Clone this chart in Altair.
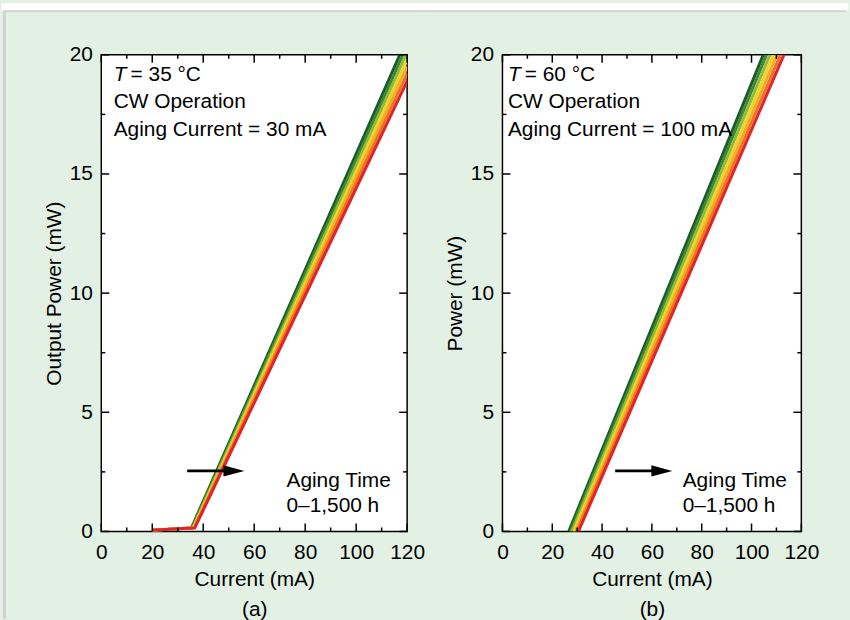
import altair as alt
import pandas as pd

FONT = "Liberation Sans"
BG = "#e3f1e4"
BORDER = "#cfd3cf"

# aging times of the curves and their colours (dark green = 0 h ... red = 1,500 h)
hours = [0, 250, 500, 750, 1000, 1250, 1500]
line_colors = ["#1d5a2a", "#3b8934", "#93bb3a", "#ead52a", "#f5ab24", "#ee7223", "#e1232a"]

# panel (a): T = 35 C, aging current 30 mA
a_start_current = 20.0
a_start_power = 0.05
a_knee_power = 0.15
a_threshold = [35.4, 35.6, 35.9, 36.1, 36.3, 36.5, 36.7]
a_end_current = 120.0
a_end_power = [20.7, 20.4, 20.1, 19.8, 19.5, 19.2, 18.9]

# panel (b): T = 60 C, aging current 100 mA
b_threshold = [26.6, 27.2, 27.9, 28.6, 29.3, 29.9, 30.5]
b_end_current = [104.7, 106.0, 107.4, 108.8, 110.2, 111.6, 113.0]
b_end_power = 20.0

# axis ticks
x_major = [0, 20, 40, 60, 80, 100, 120]
x_minor = [10, 30, 50, 70, 90, 110]
y_major = [0, 5, 10, 15, 20]
y_minor = [2.5, 7.5, 12.5, 17.5]

# texts
a_notes = ["CW Operation", "Aging Current = 30 mA"]
a_temp = "= 35 °C"
b_notes = ["CW Operation", "Aging Current = 100 mA"]
b_temp = "= 60 °C"
aging_notes = ["Aging Time", "0–1,500 h"]

rows_a = []
for k, h in enumerate(hours):
    pts = [(a_start_current, a_start_power), (a_threshold[k], a_knee_power), (a_end_current, a_end_power[k])]
    for j, (c, p) in enumerate(pts):
        rows_a.append({"hours": h, "pt": j, "I": c, "P": p})
df_a = pd.DataFrame(rows_a)

rows_b = []
for k, h in enumerate(hours):
    pts = [(b_threshold[k], 0.0), (b_end_current[k], b_end_power)]
    for j, (c, p) in enumerate(pts):
        rows_b.append({"hours": h, "pt": j, "I": c, "P": p})
df_b = pd.DataFrame(rows_b)

one = pd.DataFrame({"k": [0]})

XS = alt.Scale(domain=[0, 120], nice=False, zero=False)
YS = alt.Scale(domain=[0, 20], nice=False, zero=False)


def panel(df, W, H, xtitle, ytitle, temp, notes, tx, arrow_x0, arrow_x1, arrow_head, aging_x,
          frame_x0, frame_x1, left_border):
    x_axis = alt.Axis(title=xtitle, values=x_major, ticks=False, domain=False,
                      grid=False, labelPadding=10, titlePadding=6,
                      titleLineHeight=31, labelFlush=False, labelOverlap=False)
    y_axis = alt.Axis(title=ytitle, values=y_major, ticks=False, domain=False,
                      grid=False, labelPadding=9, titlePadding=5,
                      labelFlush=False, labelOverlap=False)
    lines = alt.Chart(df).mark_line(strokeWidth=3, clip=True).encode(
        x=alt.X("I:Q", scale=XS, axis=x_axis),
        y=alt.Y("P:Q", scale=YS, axis=y_axis),
        color=alt.Color("hours:O", scale=alt.Scale(domain=hours, range=line_colors), legend=None),
        order="pt:Q",
    )
    layers = []
    # white strip and thin grey border of the figure box (outside the plot area)
    layers.append(alt.Chart(one).mark_rect(color="white").encode(
        x=alt.value(frame_x0), x2=alt.value(frame_x1), y=alt.value(-52), y2=alt.value(-44)))
    layers.append(alt.Chart(one).mark_rule(color=BORDER, strokeWidth=2).encode(
        x=alt.value(frame_x0 + (3 if left_border else 0)), x2=alt.value(frame_x1 - 2), y=alt.value(-44)))
    if left_border:
        layers.append(alt.Chart(one).mark_rule(color=BORDER, strokeWidth=3).encode(
            x=alt.value(frame_x0 + 3), y=alt.value(-45), y2=alt.value(568)))
    layers.append(lines)
    for vals, L in [(x_major, 8), (x_minor, 4)]:
        d = pd.DataFrame({"I": vals})
        base = alt.Chart(d).mark_rule(color="black", strokeWidth=1.5)
        layers.append(base.encode(x=alt.X("I:Q", scale=XS, axis=x_axis), y=alt.value(H), y2=alt.value(H - L)))
        layers.append(base.encode(x=alt.X("I:Q", scale=XS, axis=x_axis), y=alt.value(0), y2=alt.value(L)))
    for vals, L in [(y_major, 8), (y_minor, 4)]:
        d = pd.DataFrame({"P": vals})
        base = alt.Chart(d).mark_rule(color="black", strokeWidth=1.5)
        layers.append(base.encode(y=alt.Y("P:Q", scale=YS, axis=y_axis), x=alt.value(0), x2=alt.value(L)))
        layers.append(base.encode(y=alt.Y("P:Q", scale=YS, axis=y_axis), x=alt.value(W), x2=alt.value(W - L)))

    txt = dict(font=FONT, fontSize=21, color="black", align="left", baseline="alphabetic", fontWeight="normal")
    layers.append(alt.Chart(one).mark_text(fontStyle="italic", **txt).encode(
        x=alt.value(tx), y=alt.value(26), text=alt.value("T")))
    layers.append(alt.Chart(one).mark_text(**txt).encode(
        x=alt.value(tx + 17), y=alt.value(26), text=alt.value(temp)))
    for i, s in enumerate(notes):
        layers.append(alt.Chart(one).mark_text(**txt).encode(
            x=alt.value(tx), y=alt.value(54 + 28 * i), text=alt.value(s)))
    for i, s in enumerate(aging_notes):
        layers.append(alt.Chart(one).mark_text(**txt).encode(
            x=alt.value(aging_x), y=alt.value(435 + 25 * i), text=alt.value(s)))
    layers.append(alt.Chart(one).mark_rule(color="black", strokeWidth=3).encode(
        x=alt.value(arrow_x0), x2=alt.value(arrow_x1), y=alt.value(419)))
    layers.append(alt.Chart(one).mark_point(shape="M-1,-0.55L1,0L-1,0.55Z", filled=True, color="black",
                                            size=441, opacity=1).encode(
        x=alt.value(arrow_head), y=alt.value(419)))
    return alt.layer(*layers).properties(width=W, height=H)


pa = panel(df_a, 308, 480, ["Current (mA)", "(a)"], "Output Power (mW)", a_temp, a_notes,
           12.5, 86.5, 126, 133.5, 186.5, -100.5, 335, True)
pb = panel(df_b, 301, 480, ["Current (mA)", "(b)"], "Power (mW)", b_temp, b_notes,
           5.5, 113.5, 153, 160.5, 181.5, -90, 348.5, False)

chart = alt.hconcat(pa, pb, spacing=-24).properties(
    background=BG,
    padding={"left": 0, "top": 0, "right": 0, "bottom": 0},
).configure_view(stroke="black", strokeWidth=1.5, fill="white").configure_axis(
    labelFont=FONT, labelFontSize=21, titleFont=FONT, titleFontSize=21, titleFontWeight="normal",
    labelColor="black", titleColor="black",
)

chart.save("out.html", embed_options={"renderer": "svg", "actions": False})
